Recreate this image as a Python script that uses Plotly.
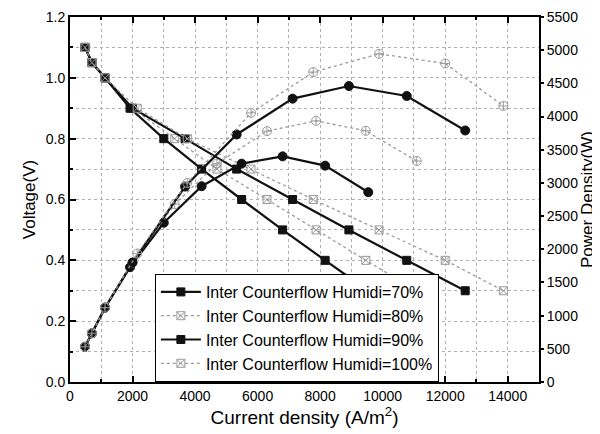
import plotly.graph_objects as go

# ---- data ----
voltage = [1.1, 1.05, 1.0, 0.9, 0.8, 0.7, 0.6, 0.5, 0.4, 0.3]

current_70 = [480, 700, 1120, 1920, 3000, 4210, 5490, 6800, 8160, 9540]
current_80 = [480, 700, 1120, 2000, 3350, 4700, 6300, 7870, 9460, 11090]
current_90 = [480, 700, 1120, 2000, 3680, 5330, 7120, 8920, 10770, 12640]
current_100 = [480, 700, 1120, 2150, 3750, 5790, 7780, 9885, 12000, 13860]

power_70 = [530, 735, 1120, 1730, 2400, 2950, 3290, 3400, 3260, 2860]
power_80 = [530, 735, 1120, 1800, 2680, 3290, 3780, 3935, 3785, 3330]
power_90 = [530, 735, 1120, 1800, 2945, 3730, 4270, 4460, 4310, 3790]
power_100 = [530, 735, 1120, 1935, 3000, 4055, 4670, 4945, 4800, 4160]

labels = ["Inter Counterflow Humidi=70%", "Inter Counterflow Humidi=80%",
          "Inter Counterflow Humidi=90%", "Inter Counterflow Humidi=100%"]

BLACK = "#111111"
GRAY = "#9a9a9a"

fig = go.Figure()

series = [
    (current_70, power_70, labels[0], BLACK, "solid", "square", "circle", 2.2),
    (current_80, power_80, labels[1], GRAY, "dot", "square-x-open", "circle-cross-open", 1.3),
    (current_90, power_90, labels[2], BLACK, "solid", "square", "circle", 2.2),
    (current_100, power_100, labels[3], GRAY, "dot", "square-x-open", "circle-cross-open", 1.3),
]

for cur, pw, name, col, dash, vsym, psym, lw in series:
    fig.add_trace(go.Scatter(
        x=cur, y=voltage, name=name, mode="lines+markers",
        line=dict(color=col, width=lw, dash=dash),
        marker=dict(symbol=vsym, size=8, color=col, line=dict(color=col, width=1)),
        yaxis="y",
    ))
    fig.add_trace(go.Scatter(
        x=cur, y=pw, name=name, mode="lines+markers", showlegend=False,
        line=dict(color=col, width=lw, dash=dash),
        marker=dict(symbol=psym, size=9, color=col, line=dict(color=col, width=1)),
        yaxis="y2",
    ))

font = "Liberation Sans, Arial, sans-serif"
grid = dict(showgrid=True, gridcolor="#b0b0b0", griddash="dot", gridwidth=1)

# page body has an 8px margin, so the figure is 592x426 and shifted accordingly
fig.update_layout(
    width=592, height=426,
    margin=dict(l=62, r=61, t=9, b=52),
    paper_bgcolor="white", plot_bgcolor="white",
    font=dict(family=font, size=14, color="black"),
    xaxis=dict(
        range=[0, 15000], dtick=2000, tick0=0, tickformat="d",
        ticks="inside", ticklen=6, tickwidth=1.5, tickcolor="black",
        showline=True, linecolor="black", linewidth=2, mirror="ticks",
        zeroline=False, automargin=False,
        minor=dict(dtick=1000, ticks="inside", ticklen=3, tickcolor="black",
                   showgrid=True, gridcolor="#b0b0b0", griddash="dot"),
        title=dict(text="Current density (A/m<sup>2</sup>)", font=dict(size=19), standoff=8),
        tickfont=dict(size=14),
        **grid,
    ),
    yaxis=dict(
        range=[0, 1.2], dtick=0.2, tick0=0, tickformat=".1f",
        ticks="inside", ticklen=6, tickwidth=1.5, tickcolor="black",
        showline=True, linecolor="black", linewidth=2,
        zeroline=False, automargin=False,
        minor=dict(dtick=0.1, ticks="inside", ticklen=3, tickcolor="black",
                   showgrid=True, gridcolor="#b0b0b0", griddash="dot"),
        title=dict(text="Voltage(V)", font=dict(size=17), standoff=6),
        tickfont=dict(size=14),
        **grid,
    ),
    yaxis2=dict(
        range=[0, 5500], dtick=500, tick0=0, overlaying="y", side="right",
        ticks="outside", ticklen=3, tickwidth=1.5, tickcolor="black",
        showline=True, linecolor="black", linewidth=2,
        showgrid=False, zeroline=False, automargin=False,
        title=dict(text="Power Density(W)", font=dict(size=17), standoff=4),
        tickfont=dict(size=14),
    ),
    legend=dict(
        x=0.181, y=0.0, xanchor="left", yanchor="bottom",
        bgcolor="white", bordercolor="black", borderwidth=1,
        font=dict(size=16), tracegroupgap=0, itemwidth=40,
    ),
    showlegend=True,
)

fig.write_html("out.html")
